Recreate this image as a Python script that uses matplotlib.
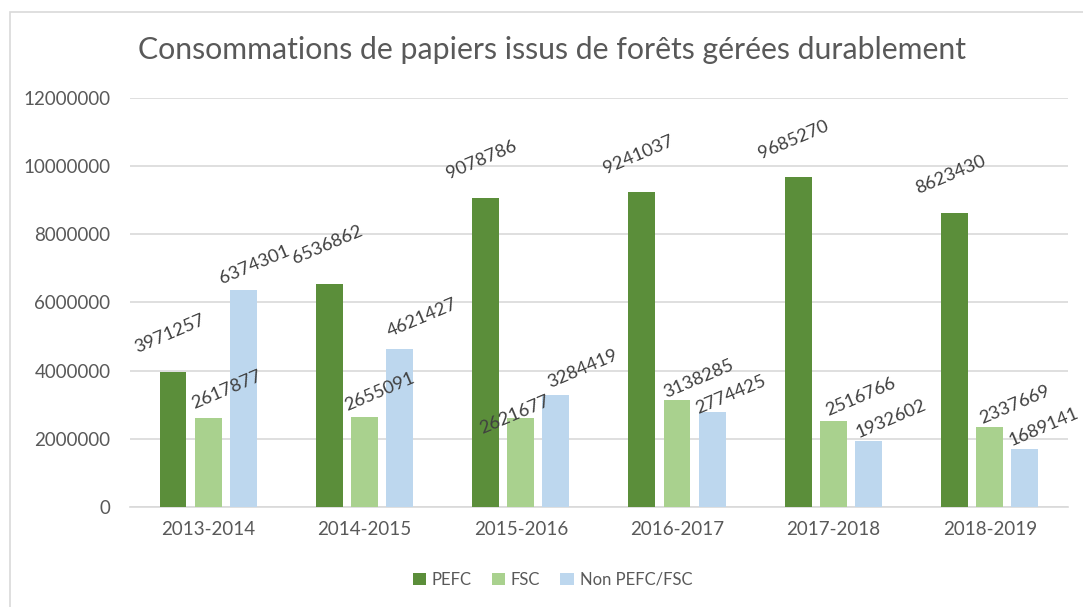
import matplotlib.pyplot as plt
import numpy as np
from matplotlib.patches import Rectangle

categories = ["2013-2014", "2014-2015", "2015-2016", "2016-2017", "2017-2018", "2018-2019"]
pefc = [3971257, 6536862, 9078786, 9241037, 9685270, 8623430]
fsc = [2617877, 2655091, 2621677, 3138285, 2516766, 2337669]
non = [6374301, 4621427, 3284419, 2774425, 1932602, 1689141]
series_names = ["PEFC", "FSC", "Non PEFC/FSC"]
colors = ["#5B8E3A", "#A9D18E", "#BDD7EE"]

# label placement (pixels, relative to the top-left corner of each bar; baseline start of text)
label_offsets = [
    [(-22, 19), (-21, 20), (-23, 19), (-22, 18), (-24, 18), (-23, 19)],
    [(-1, 9), (-4, 6), (-25, -16), (3, 2), (8, 5), (6, 3)],
    [(-8, 6), (4, 12), (8, 7), (-1, -2), (3, 3), (0, 3)],
]

plt.rcParams['font.family'] = ['Lato', 'DejaVu Sans']

fig = plt.figure(figsize=(10.83, 6.07), dpi=100)
fig.patches.append(Rectangle((10/1083, -0.1), 1.2, 1 - 12/607 + 0.1, transform=fig.transFigure,
                             fill=False, edgecolor="#D9D9D9", linewidth=1.2))
ax = fig.add_axes([0.120, 0.1647, 0.866, 0.6739])

x = np.arange(len(categories))
w = 0.172
offs = [-0.225, 0, 0.225]
for data, off, c, name, lo in zip([pefc, fsc, non], offs, colors, series_names, label_offsets):
    ax.bar(x + off, data, width=w, color=c, label=name, zorder=3)
    for xi, v, (dx, dy) in zip(x + off - w / 2, data, lo):
        ax.annotate(f"{v}", (xi, v), xytext=(dx, dy), textcoords="offset pixels",
                    ha="left", va="baseline", rotation=23, rotation_mode="anchor",
                    fontsize=13.2, color="#404040", zorder=4)

ax.set_xlim(-0.5, len(categories) - 0.5)
ax.set_ylim(0, 12000000)
ticks = np.arange(0, 12000001, 2000000)
ax.set_yticks(ticks)
ax.set_yticklabels([f"{int(t)}" for t in ticks])
ax.set_xticks(x)
ax.set_xticklabels(categories)
ax.tick_params(axis="both", length=0, labelsize=13.5, labelcolor="#595959")
ax.tick_params(axis="y", pad=14)
ax.tick_params(axis="x", pad=10)
ax.grid(axis="y", color="#D9D9D9", linewidth=1.2, zorder=0)
for s in ["top", "right", "left"]:
    ax.spines[s].set_visible(False)
ax.spines["bottom"].set_color("#D9D9D9")
ax.spines["bottom"].set_linewidth(1.2)

fig.text(0.51, 0.917, "Consommations de papiers issus de forêts gérées durablement",
         ha="center", va="center", fontsize=21.8, color="#595959")

fig.legend(loc="center", bbox_to_anchor=(0.51, 0.045), ncol=3, frameon=False,
           fontsize=12, handlelength=0.8, handleheight=0.8, columnspacing=1.2,
           handletextpad=0.35, labelcolor="#595959")

fig.savefig("out.png", dpi=100)
